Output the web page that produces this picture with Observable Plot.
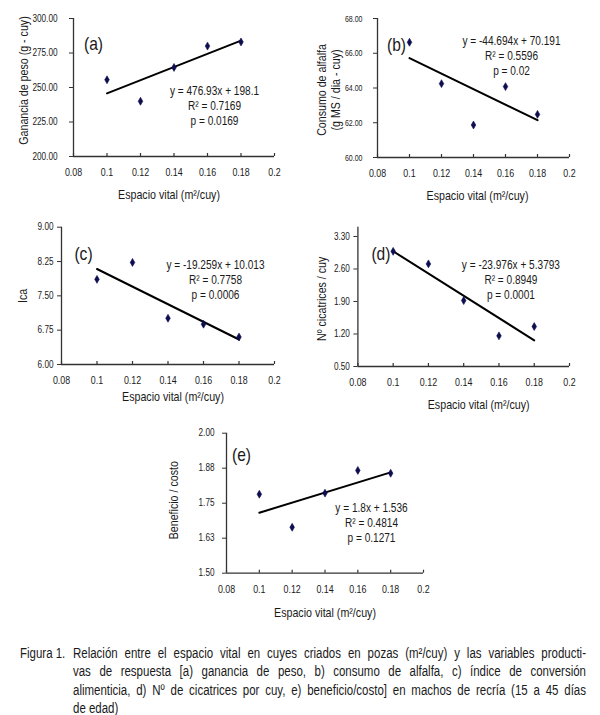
<!DOCTYPE html>
<html><head><meta charset="utf-8">
<script src="https://cdn.jsdelivr.net/npm/d3@7"></script>
<script src="https://cdn.jsdelivr.net/npm/@observablehq/plot@0.6"></script>
<style>
body{margin:0;background:#fff;}
#fig{position:relative;width:600px;height:715px;overflow:hidden;background:#fff;color:#1a1a1a;
  font-family:"Liberation Sans","Arimo",Arial,sans-serif;}
.panel{position:absolute;}
#caption{position:absolute;left:0;top:644px;width:600px;font-size:14px;line-height:18.3px;}
#caption .fnum{position:absolute;left:20px;top:0;width:80px;transform:scaleX(0.82);transform-origin:0 0;white-space:nowrap;}
#caption .ctext{position:absolute;left:73px;top:0;width:625.6px;transform:scaleX(0.82);transform-origin:0 0;}
#caption .j{text-align:justify;text-align-last:justify;white-space:nowrap;}
#caption .last{white-space:nowrap;}
</style></head><body>
<div id="fig"></div>
<script>
// ---- data ----
const espacio    = [0.10, 0.12, 0.14, 0.16, 0.18];
const ganancia   = [255.6, 240.0, 264.5, 280.0, 283.0];
const consumo    = [66.63, 64.25, 61.87, 64.08, 62.48];
const ica        = [7.86, 8.23, 7.01, 6.88, 6.60];
const cicatrices = [2.98, 2.71, 1.92, 1.16, 1.36];
const beneficio  = [1.782, 1.664, 1.786, 1.867, 1.857];

const xTicks = [0.08, 0.10, 0.12, 0.14, 0.16, 0.18, 0.20];
const yTicksA = [200, 225, 250, 275, 300];
const yTicksB = [60, 62, 64, 66, 68];
const yTicksC = [6.00, 6.75, 7.50, 8.25, 9.00];
const yTicksD = [0.50, 1.20, 1.90, 2.60, 3.30];
const yTicksE = [1.500, 1.625, 1.750, 1.875, 2.000];

const slopes     = [476.93, -44.694, -19.259, -23.976, 1.8];
const intercepts = [198.1, 70.191, 10.013, 5.3793, 1.536];
const equations = [
  "y = 476.93x + 198.1\nR² = 0.7169\np = 0.0169",
  "y = -44.694x + 70.191\nR² = 0.5596\np = 0.02",
  "y = -19.259x + 10.013\nR² = 0.7758\np = 0.0006",
  "y = -23.976x + 5.3793\nR² = 0.8949\np = 0.0001",
  "y = 1.8x + 1.536\nR² = 0.4814\np = 0.1271"
];
const tags = ["(a)", "(b)", "(c)", "(d)", "(e)"];
const yLabels = [
  "Ganancia de peso (g - cuy)",
  "Consumo de alfalfa\n(g MS / dia - cuy)",
  "Ica",
  "Nº cicatrices / cuy",
  "Beneficio / costo"
];
const xLabel = "Espacio vital (m²/cuy)";
const captionLines = [
  "Relación entre el espacio vital en cuyes criados en pozas (m²/cuy) y las variables producti-",
  "vas de respuesta [a) ganancia de peso, b) consumo de alfalfa, c) índice de conversión",
  "alimenticia, d) Nº de cicatrices por cuy, e) beneficio/costo] en machos de recría (15 a 45 días",
  "de edad)"
];

const FONT = '"Liberation Sans","Arimo",Arial,sans-serif';
const AXIS = "#333";
const DOT = "#0d0d50";
const CONDENSE = 0.82;

function condense(svg, yTickFactor) {
  svg.querySelectorAll("text").forEach(t => {
    const tr = t.getAttribute("transform") || "";
    if (tr.includes("rotate")) {
      // rotated titles: condense along the text direction with a real transform
      t.setAttribute("transform", tr + ` scale(${CONDENSE},1)`);
      return;
    }
    const isYTick = t.closest("[aria-label='y-axis tick label']") !== null;
    const f = isYTick ? yTickFactor : CONDENSE;
    const spans = t.querySelectorAll("tspan");
    const targets = spans.length ? Array.from(spans) : [t];
    targets.forEach(el => {
      const w = el.getComputedTextLength();
      if (w > 0) {
        el.setAttribute("textLength", (w * f).toFixed(2));
        el.setAttribute("lengthAdjust", "spacingAndGlyphs");
      }
    });
  });
}

function panel(i, yVals, yTicks, yDomain, L) {
  const fig = document.getElementById("fig");
  const pts = espacio.map((x, k) => ({x, y: yVals[k]}));
  const fit = [espacio[0], espacio[espacio.length - 1]].map(x => ({x, y: slopes[i] * x + intercepts[i]}));
  const frameH = L.height - L.mt - L.mb;
  const chart = Plot.plot({
    width: L.width, height: L.height,
    marginLeft: L.ml, marginRight: L.mr, marginTop: L.mt, marginBottom: L.mb,
    style: {fontFamily: FONT, fontSize: "11px", color: "#1a1a1a", background: "transparent", overflow: "visible"},
    x: {domain: [0.08, 0.2]},
    y: {domain: yDomain},
    marks: [
      Plot.axisY({ticks: yTicks, tickFormat: d3.format(".2f"), tickSize: 4, tickPadding: L.yPad, label: null, stroke: AXIS, fontSize: L.yFont || 10}),
      Plot.axisX({ticks: xTicks, tickFormat: d => String(+d.toFixed(2)), tickSize: 0, tickPadding: 12, label: null, fontSize: 10.8}),
      Plot.tickX(xTicks, {x: d => d, insetTop: frameH - 3, stroke: AXIS, strokeWidth: 1.2}),
      Plot.ruleX([0.08], {stroke: AXIS, strokeWidth: 1.3}),
      Plot.ruleY([yDomain[0]], {stroke: AXIS, strokeWidth: 1.3}),
      Plot.line(fit, {x: "x", y: "y", stroke: "#000", strokeWidth: 2}),
      Plot.dot(pts, {x: "x", y: "y", symbol: "diamond", r: 2.4, fill: DOT, stroke: DOT, strokeWidth: 0.6}),
      Plot.text([equations[i]], {text: d => d, frameAnchor: "top-left", dx: L.eqX, dy: L.eqY, textAnchor: "middle", lineAnchor: "middle", lineHeight: 1.22, fontSize: 12.3}),
      Plot.text([tags[i]], {text: d => d, frameAnchor: "top-left", dx: L.tagX, dy: L.tagY, textAnchor: "middle", lineAnchor: "middle", fontSize: 19}),
      Plot.text([yLabels[i]], {text: d => d, frameAnchor: "left", dx: L.ylX, dy: L.ylY, rotate: -90, textAnchor: "middle", lineAnchor: "middle", lineHeight: 1.12, fontSize: 13}),
      Plot.text([xLabel], {text: d => d, frameAnchor: "bottom", dx: L.xlX, dy: L.xlY, textAnchor: "middle", lineAnchor: "middle", fontSize: 13})
    ]
  });
  chart.classList.add("panel");
  chart.style.left = L.left + "px";
  chart.style.top = L.top + "px";
  fig.appendChild(chart);
  condense(chart, L.yCond || CONDENSE);
}

panel(0, ganancia, yTicksA, [200, 300],
  {left: 0, top: 0, width: 300, height: 210, ml: 73, mr: 26, mt: 18, mb: 54, yPad: 12,
   eqX: 141, eqY: 87, tagX: 20, tagY: 25, ylX: -50, ylY: -7, xlX: -5, xlY: 38});
panel(1, consumo, yTicksB, [60, 68],
  {left: 300, top: 0, width: 300, height: 210, ml: 77, mr: 31, mt: 18, mb: 53, yPad: 11,
   yFont: 9.5, yCond: 0.74,
   eqX: 134, eqY: 37, tagX: 19, tagY: 26, ylX: -49, ylY: 2, xlX: 4, xlY: 38});
panel(2, ica, yTicksC, [6, 9],
  {left: 0, top: 210, width: 300, height: 205, ml: 61, mr: 26, mt: 16.7, mb: 51, yPad: 4,
   eqX: 154, eqY: 52, tagX: 22, tagY: 27, ylX: -39, ylY: 0, xlX: 5, xlY: 32});
panel(3, cicatrices, yTicksD, [0.5, 3.5],
  {left: 300, top: 210, width: 300, height: 205, ml: 57.4, mr: 31, mt: 16.7, mb: 49, yPad: 4,
   eqX: 153, eqY: 52, tagX: 23, tagY: 27, ylX: -37, ylY: 2, xlX: 15, xlY: 38});
panel(4, beneficio, yTicksE, [1.5, 2.0],
  {left: 150, top: 420, width: 300, height: 210, ml: 76, mr: 27, mt: 12.7, mb: 57.3, yPad: 8,
   eqX: 145, eqY: 89, tagX: 15, tagY: 22, ylX: -53, ylY: -3, xlX: 0, xlY: 40});

// caption
const cap = document.createElement("div");
cap.id = "caption";
const fnum = document.createElement("div");
fnum.className = "fnum";
fnum.textContent = "Figura 1.";
cap.appendChild(fnum);
const ct = document.createElement("div");
ct.className = "ctext";
captionLines.forEach((line, k) => {
  const d = document.createElement("div");
  d.className = k < captionLines.length - 1 ? "j" : "last";
  d.textContent = line;
  ct.appendChild(d);
});
cap.appendChild(ct);
document.getElementById("fig").appendChild(cap);
</script>
</body></html>
